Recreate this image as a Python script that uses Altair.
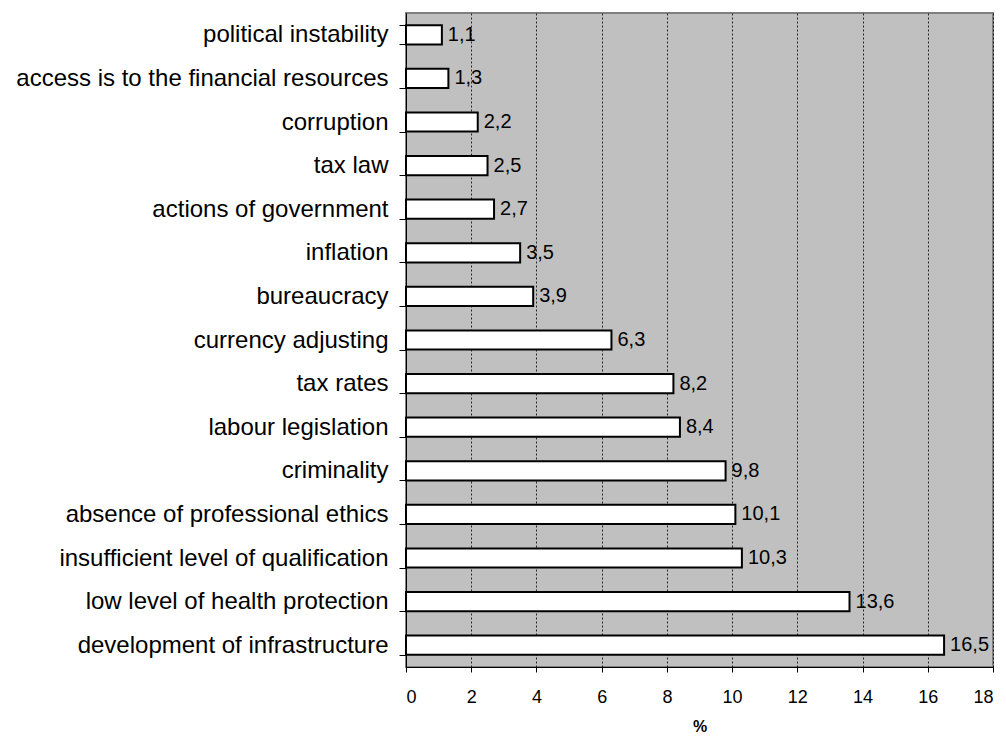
import altair as alt
import pandas as pd

categories = [
    "political instability",
    "access is to the financial resources",
    "corruption",
    "tax law",
    "actions of government",
    "inflation",
    "bureaucracy",
    "currency adjusting",
    "tax rates",
    "labour legislation",
    "criminality",
    "absence of professional ethics",
    "insufficient level of qualification",
    "low level of health protection",
    "development of infrastructure",
]
values = [1.1, 1.3, 2.2, 2.5, 2.7, 3.5, 3.9, 6.3, 8.2, 8.4, 9.8, 10.1, 10.3, 13.6, 16.5]

df = pd.DataFrame({"category": categories, "value": values})

y_enc = alt.Y(
    "category:N",
    sort=categories,
    title=None,
    scale=alt.Scale(paddingInner=0.56, paddingOuter=0.28),
    axis=alt.Axis(
        tickBand="extent",
        tickSize=7,
        tickColor="black",
        domainColor="black",
        labelPadding=11,
        labelFont="Liberation Sans",
        labelFontSize=24,
        labelColor="black",
        labelLimit=600,
    ),
)

x_enc = alt.X(
    "value:Q",
    title="%",
    scale=alt.Scale(domain=[0, 18], nice=False),
    axis=alt.Axis(
        values=list(range(0, 19, 2)),
        grid=True,
        gridColor="black",
        gridDash=[2, 2],
        gridWidth=0.8,
        tickSize=5,
        tickColor="black",
        domainColor="black",
        labelFont="Liberation Sans",
        labelFontSize=18,
        labelColor="black",
        labelPadding=16,
        titleFont="Liberation Sans",
        titleFontSize=16,
        titleFontWeight="bold",
        titlePadding=12,
        titleColor="black",
    ),
)

bars = alt.Chart(df).mark_bar(
    fill="white", stroke="black", strokeWidth=2
).encode(x=x_enc, y=y_enc)

text = alt.Chart(df).transform_calculate(
    label="replace(format(datum.value, '.1f'), '.', ',')"
).mark_text(
    align="left", baseline="middle", dx=6, font="Liberation Sans", fontSize=20, color="black"
).encode(
    x=alt.X("value:Q"),
    y=alt.Y("category:N", sort=categories),
    text="label:N",
)

chart = (
    alt.layer(bars, text)
    .properties(
        width=587,
        height=654,
        autosize=alt.AutoSizeParams(type="none"),
        padding={"left": 398, "top": 5, "right": 5, "bottom": 67},
    )
    .configure_view(fill="#C0C0C0", stroke="#808080", strokeWidth=2)
)

chart.save("out.html", embed_options={"renderer": "svg", "actions": False})
